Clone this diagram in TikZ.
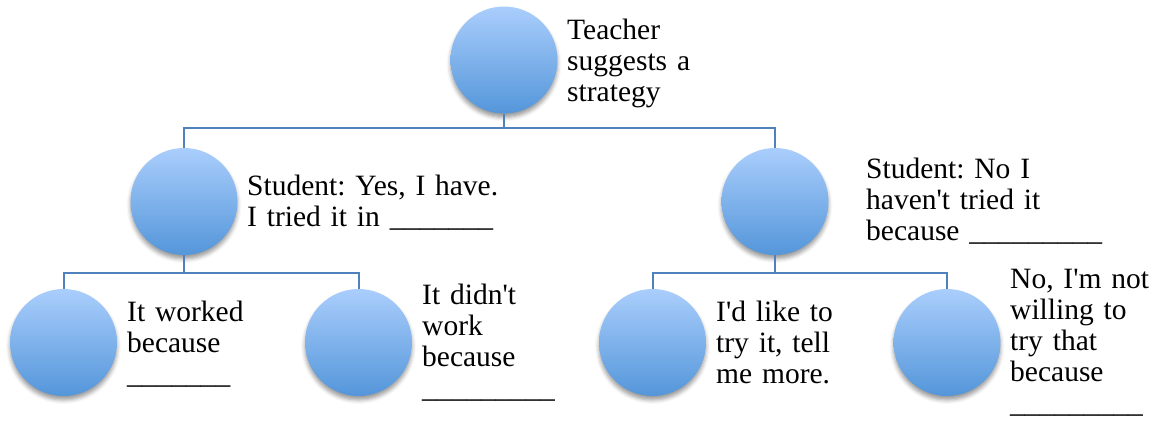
\documentclass[tikz,border=0pt]{standalone}
\usepackage{fontspec}
\setmainfont{Liberation Serif}[Ligatures=TeXOff]
\usetikzlibrary{shadows.blur}
\definecolor{linec}{RGB}{79,129,189}
\definecolor{topc}{RGB}{170,206,252}
\definecolor{botc}{RGB}{84,150,218}
\frenchspacing
\begin{document}
\begin{tikzpicture}[x=1pt,y=-1pt,
  bubble/.style={circle, minimum size=107pt, inner sep=0pt, draw=none,
    top color=topc, bottom color=botc,
    blur shadow={shadow xshift=0pt, shadow yshift=-4pt, shadow blur radius=4pt, shadow opacity=40}},
  conn/.style={draw=linec, line width=2pt},
  lbl/.style={anchor=base west, inner sep=0pt, text width=260pt, align=left,
    font=\fontsize{29.5}{31}\selectfont\frenchspacing}]
\useasboundingbox (0,0) rectangle (1157,421);
% bubbles
\node[bubble] (A) at (504,60) {};
\node[bubble] (B) at (184,201.5) {};
\node[bubble] (C) at (775,201.5) {};
\node[bubble] (D) at (63.5,342.5) {};
\node[bubble] (E) at (358.5,342.5) {};
\node[bubble] (F) at (652.5,342.5) {};
\node[bubble] (G) at (947,342.5) {};
% bus coordinates
\coordinate (busA) at (504,128);
\coordinate (busB) at (184,272.7);
\coordinate (busC) at (775,272.7);
% connectors
\draw[conn] (A.south) -- (busA);
\draw[conn] (busA) -| (B.north);
\draw[conn] (busA) -| (C.north);
\draw[conn] (B.south) -- (busB);
\draw[conn] (busB) -| (D.north);
\draw[conn] (busB) -| (E.north);
\draw[conn] (C.south) -- (busC);
\draw[conn] (busC) -| (F.north);
\draw[conn] (busC) -| (G.north);
% labels
\node[lbl] (tA) at (567,39) {Teacher\\suggests a\\strategy};
\node[lbl] (tB) at (247,195) {Student: Yes, I have.\\I tried it in \_\_\_\_\_\_\_};
\node[lbl] (tC) at (866,178) {Student: No I\\haven't tried it\\because \_\_\_\_\_\_\_\_\_};
\node[lbl] (tD) at (127,321) {It worked\\because\\\_\_\_\_\_\_\_};
\node[lbl] (tE) at (422,304) {It didn't\\work\\because\\\_\_\_\_\_\_\_\_\_};
\node[lbl] (tF) at (716,321) {I'd like to\\try it, tell\\me more.};
\node[lbl] (tG) at (1010,288) {No, I'm not\\willing to\\try that\\because\\\_\_\_\_\_\_\_\_\_};
\end{tikzpicture}
\end{document}
